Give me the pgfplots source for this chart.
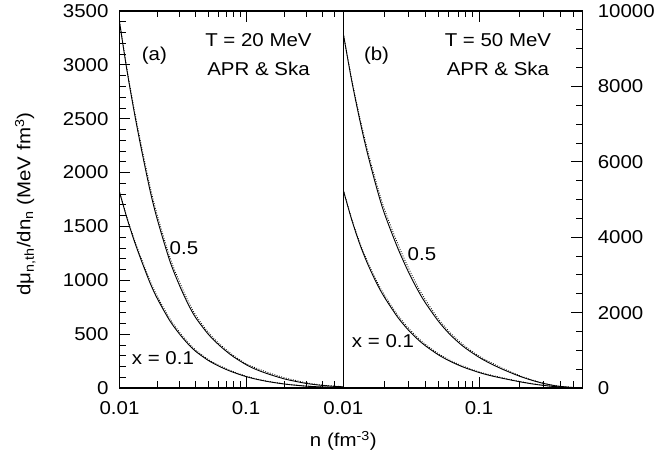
\documentclass[border=0pt]{standalone}
\usepackage{fontspec}
\setmainfont{Liberation Sans}[FakeStretch=1.1]
\usepackage{pgfplots}
\pgfplotsset{compat=1.18}
\usepackage{pgfplotstable}

% n, APR and Ska for x = 0.1 and x = 0.5
\pgfplotstableread{
n      apr01  ska01  apr05  ska05
0.01   1820   1820   3400   3400
0.0115 1570   1578   2936   2951
0.0132 1352   1366   2535   2560
0.015  1173   1191   2199   2232
0.0175 971    990    1825   1862
0.02   825    846    1555   1594
0.025  624    643    1179   1214
0.03   497    514    944    977
0.035  406    420    775    802
0.04   340    352    653    676
0.05   258    267    503    521
0.06   207    214    408    422
0.07   171    178    340    354
0.08   144    150    288    300
0.1    106    110    217    226
0.12   82     86     172    185
0.15   59     62     130    143
0.2    37     39     85     96
0.25   25     26     60     69
0.3    17     18     42     48
0.35   12.6   13.2   31.5   36
0.4    9.5    10     24     27
0.5    6      6.3    15     17
0.6    4.3    4.5    11     12
}\tabA

\pgfplotstableread{
n      apr01  ska01  apr05  ska05
0.01   5250   5250   9400   9400
0.0115 4478   4500   8174   8215
0.0132 3826   3864   7121   7192
0.015  3320   3370   6253   6347
0.0175 2800   2856   5343   5450
0.02   2420   2481   4650   4766
0.025  1892   1949   3740   3852
0.03   1547   1601   3100   3209
0.035  1306   1352   2629   2721
0.04   1128   1167   2275   2355
0.05   884    915    1780   1842
0.06   725    750    1450   1501
0.07   613    637    1221   1270
0.08   529    550    1050   1092
0.1    412    428    815    848
0.12   333    350    658    691
0.15   255    268    493    518
0.2    165    173    310    326
0.25   106    111    196    206
0.3    68     71     120    126
0.35   43     45     71     75
0.4    26     27     40     42
0.5    8      8.4    12     13
0.6    2.6    2.7    4.3    4.5
}\tabB

\newcommand\ff{\fontsize{18.6}{29.5}\selectfont}
\tikzset{
  apr/.style={black, line width=0.9pt, smooth},
  ska/.style={black, line width=0.9pt, smooth, dash pattern=on 0.8pt off 1.6pt},
}

\begin{document}
\begin{tikzpicture}
\useasboundingbox (-119.5pt,-67pt) rectangle (539.5pt,388pt);

\begin{axis}[at={(0,0)}, anchor=south west,
  scale only axis, width=223.8pt, height=377pt, clip mode=individual,
  xmode=log, xmin=0.01, xmax=0.587, ymin=0, ymax=3500,
  axis line style={line width=1.1pt},
  tick align=inside, xtick pos=both, xticklabel pos=lower, ytick pos=left,
  major tick length=11pt, minor tick length=6.5pt,
  every tick/.style={black, line width=0.8pt},
  tick label style={font=\ff},
  xtick={0.01,0.1}, xticklabels={0.01,0.1},
  minor xtick={0.02,0.03,0.04,0.05,0.06,0.07,0.08,0.09,0.2,0.3,0.4,0.5},
  xticklabel style={yshift=-9.5pt},
  ytick={0,500,...,3500}, minor y tick num=4,
  scaled y ticks=false,
  yticklabel style={xshift=-7.5pt, /pgf/number format/1000 sep={}},
  /pgf/number format/assume math mode=true]
\addplot[apr] table[x=n, y=apr01] {\tabA};
\addplot[ska] table[x=n, y=ska01] {\tabA};
\addplot[apr] table[x=n, y=apr05] {\tabA};
\addplot[ska] table[x=n, y=ska05] {\tabA};
\node[font=\ff] at (rel axis cs:0.156,0.881) {(a)};
\node[font=\ff, align=center] at (rel axis cs:0.621,0.885) {T = 20 MeV\\APR \& Ska};
\node[font=\ff] at (rel axis cs:0.288,0.371) {0.5};
\node[font=\ff] at (rel axis cs:0.194,0.0796) {x = 0.1};
\node[font=\ff, rotate=90, anchor=base] at ([xshift=-89pt]rel axis cs:0,0.488)
  {dμ\textsubscript{n,th}/dn\textsubscript{n} (MeV fm\textsuperscript{3})};
\end{axis}

\begin{axis}[at={(223.8pt,0)}, anchor=south west,
  scale only axis, width=239pt, height=377pt, clip mode=individual,
  xmode=log, xmin=0.01, xmax=0.577, ymin=0, ymax=10000,
  axis line style={line width=1.1pt},
  tick align=inside, xtick pos=both, xticklabel pos=lower,
  ytick pos=right, yticklabel pos=right,
  major tick length=11pt, minor tick length=6.5pt,
  every tick/.style={black, line width=0.8pt},
  tick label style={font=\ff},
  xtick={0.01,0.1}, xticklabels={0.01,0.1},
  minor xtick={0.02,0.03,0.04,0.05,0.06,0.07,0.08,0.09,0.2,0.3,0.4,0.5},
  xticklabel style={yshift=-9.5pt},
  ytick={0,2000,...,10000}, minor y tick num=3,
  scaled y ticks=false,
  yticklabel style={xshift=12pt, /pgf/number format/1000 sep={}},
  /pgf/number format/assume math mode=true]
\addplot[apr] table[x=n, y=apr01] {\tabB};
\addplot[ska] table[x=n, y=ska01] {\tabB};
\addplot[apr] table[x=n, y=apr05] {\tabB};
\addplot[ska] table[x=n, y=ska05] {\tabB};
\node[font=\ff] at (rel axis cs:0.139,0.881) {(b)};
\node[font=\ff, align=center] at (rel axis cs:0.647,0.885) {T = 50 MeV\\APR \& Ska};
\node[font=\ff] at (rel axis cs:0.329,0.355) {0.5};
\node[font=\ff] at (rel axis cs:0.166,0.125) {x = 0.1};
\node[font=\ff, anchor=base] at ([yshift=-59pt]rel axis cs:0,0) {n (fm\textsuperscript{-3})};
\end{axis}
\end{tikzpicture}
\end{document}
